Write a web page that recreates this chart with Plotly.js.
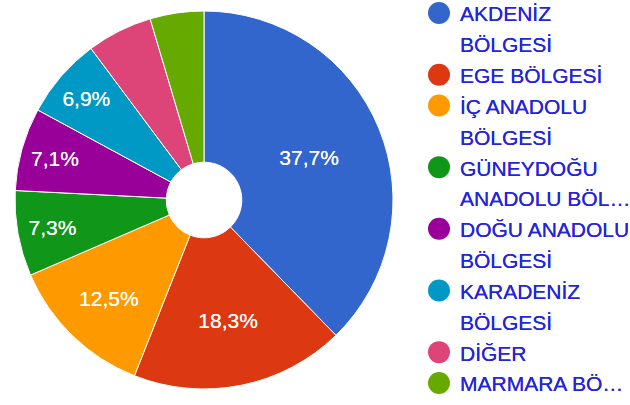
<!DOCTYPE html>
<html>
<head>
<meta charset="utf-8">
<script src="https://cdn.plot.ly/plotly-3.0.1.min.js"></script>
<style>html,body{margin:0;padding:0;background:#fff}#chart{width:630px;height:405px}</style>
</head>
<body>
<div id="chart"></div>
<script>
const categories = ["AKDENİZ BÖLGESİ", "EGE BÖLGESİ", "İÇ ANADOLU BÖLGESİ", "GÜNEYDOĞU ANADOLU BÖLGESİ", "DOĞU ANADOLU BÖLGESİ", "KARADENİZ BÖLGESİ", "DİĞER", "MARMARA BÖLGESİ"];
const values = [37.7, 18.3, 12.5, 7.3, 7.1, 6.9, 5.6, 4.6];
const legendLines = [["AKDENİZ", "BÖLGESİ"], ["EGE BÖLGESİ"], ["İÇ ANADOLU", "BÖLGESİ"], ["GÜNEYDOĞU", "ANADOLU BÖL…"], ["DOĞU ANADOLU", "BÖLGESİ"], ["KARADENİZ", "BÖLGESİ"], ["DİĞER"], ["MARMARA BÖ…"]];
const showLabel = [true, true, true, true, true, true, false, false];
const colors = ["#3366cc", "#dc3912", "#ff9900", "#109618", "#990099", "#0099c6", "#dd4477", "#66aa00"];

const W = 630, H = 405;
const cx = 204, cy = 200, R = 189;

const trace = {
  type: "pie",
  labels: categories,
  values: values,
  sort: false,
  direction: "clockwise",
  rotation: 0,
  hole: 0.2,
  marker: {colors: colors, line: {color: "#ffffff", width: 1}},
  texttemplate: showLabel.map(s => s ? "%{percent:.1%}" : ""),
  textposition: "inside",
  insidetextorientation: "horizontal",
  textfont: {family: "Liberation Sans, Arial, sans-serif", size: 21, color: "#ffffff", shadow: "0 0 0.5px #ffffff"},
  showlegend: false,
  domain: {x: [(cx - R) / W, (cx + R) / W], y: [(H - cy - R) / H, (H - cy + R) / H]}
};

const annotations = [];
const shapes = [];
const lineGap = 30.83;
let line = 0;
legendLines.forEach((lines, i) => {
  const yTop = 13 + line * lineGap;
  shapes.push({type: "circle", xref: "paper", yref: "paper",
    x0: (439 - 11) / W, x1: (439 + 11) / W,
    y0: 1 - (yTop + 11) / H, y1: 1 - (yTop - 11) / H,
    fillcolor: colors[i], line: {width: 0}});
  lines.forEach((t, j) => {
    const y = 13 + (line + j) * lineGap;
    annotations.push({xref: "paper", yref: "paper", x: 458 / W, y: 1 - (y + 1) / H,
      xanchor: "left", yanchor: "middle", showarrow: false, text: t,
      font: {family: "Liberation Sans, Arial, sans-serif", size: 21, color: "#2424dc", shadow: "0 0 0.6px #2424dc"}});
  });
  line += lines.length;
});

const layout = {
  width: W, height: H,
  margin: {l: 0, r: 0, t: 0, b: 0},
  paper_bgcolor: "#ffffff",
  separators: ", ",
  showlegend: false,
  annotations: annotations,
  shapes: shapes
};

Plotly.newPlot("chart", [trace], layout, {displayModeBar: false, staticPlot: true});
</script>
</body>
</html>
